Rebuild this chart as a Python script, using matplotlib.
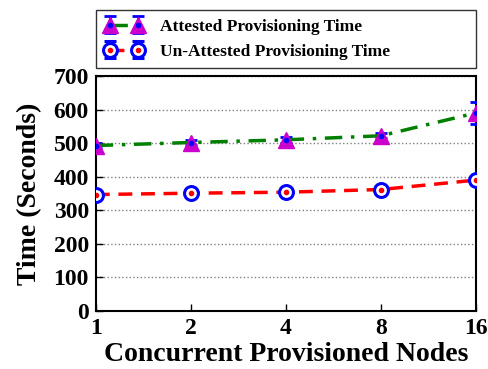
import matplotlib
matplotlib.use("Agg")
import matplotlib.pyplot as plt
import numpy as np

nodes = ["1", "2", "4", "8", "16"]
attested = [493, 502, 510, 522, 590]
attested_err = [8, 8, 8, 8, 32]
unattested = [347, 351, 354, 362, 390]
unattested_err = [4, 4, 4, 4, 6]

plt.rcParams['font.family'] = ['Liberation Serif', 'DejaVu Serif']
plt.rcParams['font.weight'] = 'bold'

fig = plt.figure(figsize=(4.89, 3.69), dpi=100)
ax = fig.add_axes([0.196, 0.157, 0.777, 0.637])
x = np.arange(len(nodes))

a = ax.errorbar(x, attested, yerr=attested_err, color="green", ls="-.", lw=2.5,
                dashes=(5, 2.5, 1, 2.5), marker="^", ms=11, mfc="#cc00cc", mec="#cc00cc",
                ecolor="blue", elinewidth=2, capsize=4, capthick=2, zorder=3)
a_dot, = ax.plot(x, attested, ls="none", marker="o", ms=3, color="blue", zorder=4)
u = ax.errorbar(x, unattested, yerr=unattested_err, color="red", ls="--", lw=2.5,
                dashes=(4, 2.5), marker="o", ms=10, mfc="white", mec="blue", mew=2.2,
                ecolor="blue", elinewidth=2, capsize=4, capthick=2, zorder=3)
u_dot, = ax.plot(x, unattested, ls="none", marker="o", ms=3, color="red", zorder=4)

ax.set_xlim(0, len(nodes) - 1)
ax.set_ylim(0, 700)
ax.set_xticks(x)
ax.set_xticklabels(nodes)
ax.set_yticks(range(0, 701, 100))
ax.tick_params(axis="both", direction="in", labelsize=17, length=5, width=1)
ax.tick_params(axis="x", pad=5)
ax.tick_params(axis="y", pad=5)
ax.yaxis.grid(True, ls=":", color="gray", lw=1)
for s in ax.spines.values():
    s.set_linewidth(1.5)

ax.set_xlabel("Concurrent Provisioned Nodes", fontsize=20, fontweight="bold", labelpad=2)
ax.set_ylabel("Time (Seconds)", fontsize=20, fontweight="bold", labelpad=8)

fig.legend([(a, a_dot), (u, u_dot)],
           ["Attested Provisioning Time", "Un-Attested Provisioning Time"],
           loc="upper left", bbox_to_anchor=(0.196, 0.816, 0.777, 0.157), mode="expand",
           numpoints=2, frameon=True, fancybox=False, edgecolor="black",
           borderpad=0.5, labelspacing=0.5, handlelength=2.2, handletextpad=1.0,
           borderaxespad=0, prop={"weight": "bold", "size": 12.5})

fig.savefig("out.png", dpi=100)
